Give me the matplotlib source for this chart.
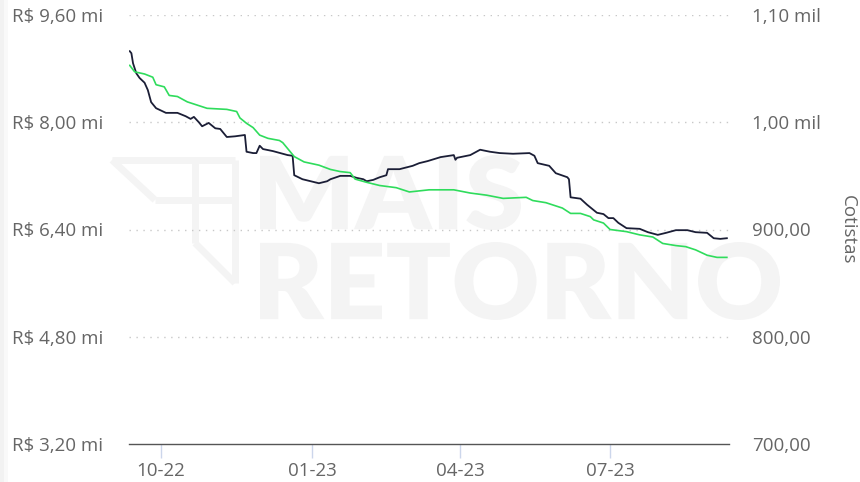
import matplotlib
matplotlib.use("Agg")
import matplotlib.pyplot as plt
from matplotlib.textpath import TextPath
from matplotlib.patches import PathPatch, Rectangle
from matplotlib.font_manager import FontProperties
from matplotlib.transforms import Affine2D
from matplotlib.lines import Line2D
import pandas as pd

plt.rcParams['font.family'] = ['Open Sans', 'DejaVu Sans']

# ---- data ----
pl_dates = ["2022-09-12", "2022-09-13", "2022-09-14", "2022-09-16", "2022-09-18", "2022-09-21",
            "2022-09-23", "2022-09-25", "2022-09-28", "2022-10-04", "2022-10-11", "2022-10-16",
            "2022-10-19", "2022-10-21", "2022-10-24", "2022-10-26", "2022-10-30", "2022-11-03",
            "2022-11-06", "2022-11-10", "2022-11-15", "2022-11-21", "2022-11-22", "2022-11-26",
            "2022-11-28", "2022-11-30", "2022-12-02", "2022-12-08", "2022-12-17", "2022-12-20",
            "2022-12-21", "2022-12-26", "2023-01-05", "2023-01-10", "2023-01-12", "2023-01-18",
            "2023-01-24", "2023-01-28", "2023-02-01", "2023-02-03", "2023-02-07", "2023-02-11",
            "2023-02-15", "2023-02-16", "2023-02-23", "2023-03-03", "2023-03-07", "2023-03-12",
            "2023-03-20", "2023-03-28", "2023-03-29", "2023-03-30", "2023-04-07", "2023-04-13",
            "2023-04-19", "2023-04-25", "2023-05-03", "2023-05-13", "2023-05-16", "2023-05-18",
            "2023-05-25", "2023-05-29", "2023-06-05", "2023-06-06", "2023-06-07", "2023-06-13",
            "2023-06-17", "2023-06-21", "2023-06-23", "2023-06-27", "2023-06-30", "2023-07-03",
            "2023-07-06", "2023-07-11", "2023-07-19", "2023-07-24", "2023-07-30", "2023-08-04",
            "2023-08-10", "2023-08-17", "2023-08-22", "2023-08-29", "2023-09-02", "2023-09-06",
            "2023-09-10"]
pl_values = [9.06, 9.03, 8.88, 8.73, 8.66, 8.59, 8.48, 8.30, 8.21, 8.14, 8.14, 8.09,
             8.05, 8.08, 8.00, 7.94, 7.99, 7.91, 7.90, 7.78, 7.79, 7.81, 7.56, 7.54,
             7.54, 7.65, 7.60, 7.57, 7.51, 7.50, 7.21, 7.15, 7.09, 7.12, 7.15, 7.20,
             7.20, 7.17, 7.15, 7.12, 7.14, 7.18, 7.21, 7.30, 7.30, 7.35, 7.39, 7.42,
             7.48, 7.51, 7.44, 7.47, 7.51, 7.59, 7.56, 7.54, 7.53, 7.54, 7.50, 7.39,
             7.35, 7.24, 7.18, 7.15, 6.88, 6.86, 6.77, 6.69, 6.65, 6.63, 6.57, 6.57,
             6.50, 6.42, 6.41, 6.36, 6.32, 6.35, 6.39, 6.39, 6.36, 6.35, 6.27, 6.26,
             6.27]

cot_dates = ["2022-09-12", "2022-09-15", "2022-09-21", "2022-09-26", "2022-09-28", "2022-10-03",
             "2022-10-06", "2022-10-11", "2022-10-17", "2022-10-23", "2022-10-29", "2022-11-10",
             "2022-11-16", "2022-11-18", "2022-11-22", "2022-11-26", "2022-11-30", "2022-12-05",
             "2022-12-12", "2022-12-14", "2022-12-21", "2022-12-27", "2023-01-05", "2023-01-12",
             "2023-01-18", "2023-01-24", "2023-01-27", "2023-02-03", "2023-02-11", "2023-02-21",
             "2023-03-01", "2023-03-13", "2023-03-28", "2023-04-07", "2023-04-17", "2023-04-27",
             "2023-05-11", "2023-05-15", "2023-05-23", "2023-06-02", "2023-06-07", "2023-06-13",
             "2023-06-19", "2023-06-21", "2023-06-27", "2023-07-01", "2023-07-11", "2023-07-19",
             "2023-07-27", "2023-08-02", "2023-08-10", "2023-08-16", "2023-08-22", "2023-08-29",
             "2023-09-04", "2023-09-10"]
cot_values = [1053, 1047, 1045, 1042, 1035, 1033, 1025, 1024, 1019, 1016, 1013, 1012,
              1010, 1004, 999, 995, 988, 985, 983, 981, 968, 963, 960, 956,
              954, 953, 947, 944, 941, 939, 935, 937, 937, 934, 932, 929,
              930, 927, 925, 920, 915, 915, 912, 909, 906, 900, 898, 895,
              893, 887, 885, 884, 881, 876, 874, 874]

left_ticks = [3.2, 4.8, 6.4, 8.0, 9.6]
left_labels = ["R$ 3,20 mi", "R$ 4,80 mi", "R$ 6,40 mi", "R$ 8,00 mi", "R$ 9,60 mi"]
right_ticks = [700, 800, 900, 1000, 1100]
right_labels = ["700,00", "800,00", "900,00", "1,00 mil", "1,10 mil"]
x_tick_dates = ["2022-10-01", "2023-01-01", "2023-04-01", "2023-07-01"]
x_tick_labels = ["10-22", "01-23", "04-23", "07-23"]

W, H = 860, 482
fig = plt.figure(figsize=(W / 100, H / 100), dpi=100)
fig.patch.set_facecolor('white')

def fx(px):
    return px / W

def fy(py):
    return 1 - py / H

# left edge faint strip
fig.patches.append(Rectangle((0, 0), fx(4), 1, transform=fig.transFigure,
                             facecolor='#f2f2f2', edgecolor='none', zorder=-10))
fig.patches.append(Rectangle((fx(4), 0), fx(4), 1, transform=fig.transFigure,
                             facecolor='#f9f9f9', edgecolor='none', zorder=-10))

# watermark logo (light strokes)
wm = '#f4f4f4'
for (xa, ya), (xb, yb) in [((112, 160), (235, 160)), ((112, 160), (155, 200)),
                           ((155, 200), (235, 200)), ((195, 160), (195, 243)),
                           ((235, 160), (235, 283)), ((195, 243), (235, 283))]:
    fig.lines.append(Line2D([fx(xa), fx(xb)], [fy(ya), fy(yb)], transform=fig.transFigure,
                            color=wm, lw=5, solid_capstyle='butt', zorder=-10))

def add_word(word, box):
    x0, y0, x1, y1 = box
    fp = FontProperties(family='Lato', weight='heavy')
    tp = TextPath((0, 0), word, size=100, prop=fp)
    ext = tp.get_extents()
    sx = (fx(x1) - fx(x0)) / ext.width
    sy = (fy(y0) - fy(y1)) / ext.height
    tr = Affine2D().translate(-ext.x0, -ext.y0).scale(sx, sy).translate(fx(x0), fy(y1))
    path = tr.transform_path(tp)
    fig.patches.append(PathPatch(path, transform=fig.transFigure, facecolor=wm,
                                 edgecolor='none', zorder=-10))

add_word("MAIS", (260, 155, 521, 230))
add_word("RETORNO", (260, 242, 780, 320))

ax = fig.add_axes([fx(129), fy(444), fx(729) - fx(129), fy(15) - fy(444)])
ax.patch.set_alpha(0)
ax2 = ax.twinx()
ax2.patch.set_alpha(0)

x0 = pd.Timestamp("2022-10-01") + pd.Timedelta(days=-19.45)
x1 = pd.Timestamp("2022-10-01") + pd.Timedelta(days=345.3)

ax.plot(pd.to_datetime(pl_dates), pl_values, color='#1b1e36', lw=1.3, zorder=3)
ax2.plot(pd.to_datetime(cot_dates), cot_values, color='#2fdc5c', lw=1.2, zorder=3)

ax.set_xlim(x0, x1)
ax.set_ylim(3.2, 9.6)
ax2.set_ylim(700, 1100)

for v in left_ticks[1:]:
    ax.axhline(v, color='#c8c8c8', lw=1.0, ls=(0, (1, 4)), zorder=1)

for s in ['top', 'left', 'right']:
    ax.spines[s].set_visible(False)
    ax2.spines[s].set_visible(False)
ax2.spines['bottom'].set_visible(False)
ax.spines['bottom'].set_color('#555555')
ax.spines['bottom'].set_linewidth(1.0)

fs = 13.5
ax.set_yticks(left_ticks)
ax.set_yticklabels(left_labels)
ax.tick_params(axis='y', length=0, pad=18.5, labelsize=fs, labelcolor='#666666')
ax2.set_yticks(right_ticks)
ax2.set_yticklabels(right_labels)
ax2.tick_params(axis='y', length=0, pad=16.5, labelsize=fs, labelcolor='#666666')

ax.set_xticks(pd.to_datetime(x_tick_dates))
ax.set_xticklabels(x_tick_labels)
ax.tick_params(axis='x', length=10, width=1, color='#ccd6eb', pad=3,
               labelsize=fs, labelcolor='#666666')

ax2.set_ylabel("Cotistas", rotation=-90, color='#666666', fontsize=fs, labelpad=26)

fig.savefig("out.png", dpi=100)
